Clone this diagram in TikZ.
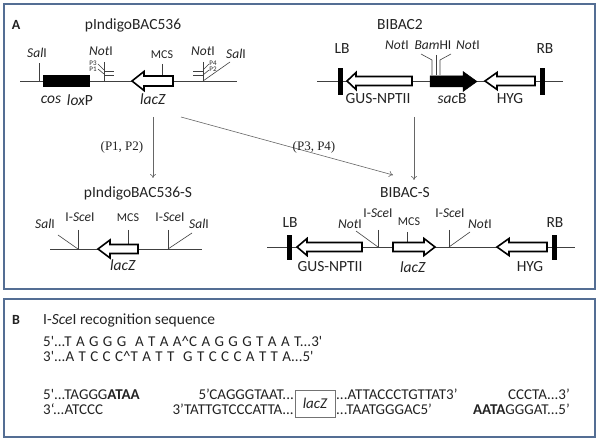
\documentclass[tikz,border=0pt]{standalone}
\usepackage{fontspec}
\setmainfont{Carlito}
\newfontfamily\tnr{Liberation Serif}
\usetikzlibrary{arrows.meta}
\definecolor{panelc}{RGB}{84,110,148}
\definecolor{txt}{RGB}{35,35,35}
% [style] tip, headbase, tail, y, bodyhalf, headhalf
\newcommand\genearrow[7][hollow]{\draw[#1] (#2,#5) -- (#3,#5-#7) -- (#3,#5-#6) -- (#4,#5-#6) -- (#4,#5+#6) -- (#3,#5+#6) -- (#3,#5+#7) -- cycle;}
\newcommand\widesp{\spaceskip=4.4pt plus 1pt\relax}
\begin{document}
\begin{tikzpicture}[x=1pt,y=-1pt,
 every node/.style={inner sep=0pt, text=txt},
 panel/.style={draw=panelc, line width=1.2pt},
 bb/.style={line width=0.7pt, draw=black!75},
 tk/.style={line width=0.6pt, draw=black!75},
 hollow/.style={draw=black, line width=1.6pt, fill=white, line join=miter},
 solidarr/.style={draw=black, fill=black, line width=0.5pt, line join=miter},
 bar/.style={fill=black},
 ttl/.style={font=\fontsize{15.5}{18}\selectfont},
 glab/.style={font=\fontsize{15.5}{18}\selectfont},
 rlab/.style={font=\fontsize{13.5}{16}\selectfont},
 mlab/.style={font=\fontsize{12}{14}\selectfont},
 plab/.style={font=\fontsize{7}{8}\selectfont},
 serlab/.style={font=\tnr\fontsize{13}{15}\selectfont},
 flow/.style={draw=black!60, line width=0.6pt, -{To[length=4pt,width=6pt]}},
 seq/.style={font=\fontsize{15}{18}\selectfont, anchor=base west, text height=9pt, text depth=1pt},
 seqe/.style={font=\fontsize{15}{18}\selectfont, anchor=base east, text height=9pt, text depth=1pt},
]
\useasboundingbox (0,0) rectangle (600,443);
% panels
\draw[panel] (4,4) rectangle (595,289);
\draw[panel] (4,299) rectangle (595,437);
\node[font=\bfseries\fontsize{14}{16}\selectfont] (lA) at (16,25) {A};
\node[font=\bfseries\fontsize{14}{16}\selectfont] (lB) at (16,320) {B};

% ---------- pIndigoBAC536 ----------
\node[ttl] (t1) at (133,25) {pIndigoBAC536};
\draw[bb] (20,81) -- (237,81);
\draw[tk] (39,81) -- (39,63);
\node[rlab] (sal1) at (37,53) {\textit{Sal}I};
\fill[black] (43,75) rectangle (90,87);
\node[glab] (cos) at (51,100) {\textit{cos}};
\node[glab] (lox) at (80,100) {\textit{lox}P};
% left NotI cluster
\node[rlab] (not1) at (101,51) {\textit{Not}I};
\draw[tk] (104,62) -- (104,81);
\draw[tk] (104,71) -- (114,71);
\draw[tk] (104,75) -- (114,75);
\draw[tk] (98,64) -- (104,70);
\draw[tk] (98,69) -- (104,74);
\node[plab] (p3) at (93,63) {P3};
\node[plab] (p1) at (93,69) {P1};
% MCS and lacZ
\node[mlab] (mcs1) at (162,55) {MCS};
\draw[tk] (162,64) -- (162,76);
\genearrow{132}{144}{173}{81}{5}{9.5}
\node[glab] (lac1) at (153,99) {\textit{lacZ}};
% right NotI cluster
\node[rlab] (not2) at (203,51) {\textit{Not}I};
\node[rlab] (sal2) at (236,54) {\textit{Sal}I};
\draw[tk] (203,62) -- (203,81);
\draw[tk] (193,71) -- (203,71);
\draw[tk] (193,75) -- (203,75);
\draw[tk] (230,62) -- (203,81);
\draw[tk] (209,64) -- (203,70);
\draw[tk] (209,70) -- (203,75);
\node[plab] (p4) at (213,63) {P4};
\node[plab] (p2) at (213,69) {P2};

% ---------- BIBAC2 ----------
\node[ttl] (t2) at (400,25) {BIBAC2};
\draw[bb] (317,81) -- (563,81);
\fill[bar] (338,68) rectangle (343,95);
\node[glab] (lb1) at (342,49) {LB};
\genearrow{347}{356}{412}{81}{4.5}{8.5}
\node[glab] (gus1) at (378,99) {GUS-NPTII};
\genearrow[solidarr]{477}{463}{430}{81.5}{5.5}{10}
\node[glab] (sac) at (452,99) {\textit{sac}B};
\genearrow{485}{497}{535}{81}{4.5}{8.5}
\node[glab] (hyg1) at (510,99) {HYG};
\fill[bar] (540,68) rectangle (545,95);
\node[glab] (rb1) at (545,49) {RB};
\node[rlab] (not3) at (397,45) {\textit{Not}I};
\node[rlab] (bam) at (433,45) {\textit{Bam}HI};
\node[rlab] (not4) at (468,45) {\textit{Not}I};
\draw[tk] (421,54) -- (432,60) -- (432,75);
\draw[tk] (436,55) -- (436,75);
\draw[tk] (451,54) -- (440,60) -- (440,75);

% ---------- flow arrows ----------
\coordinate (s1) at (153,117);
\coordinate (e1) at (153,178);
\coordinate (s2) at (181,117);
\coordinate (e2) at (393,175);
\coordinate (s3) at (414,117);
\coordinate (e3) at (414,180);
\draw[flow] (s1) -- (e1);
\draw[flow] (s2) -- (e2);
\draw[flow] (s3) -- (e3);
\node[serlab] (pp12) at (122,147) {(P1, P2)};
\node[serlab] (pp34) at (314,147) {(P3, P4)};

% ---------- pIndigoBAC536-S ----------
\node[ttl] (t3) at (138,193) {pIndigoBAC536-S};
\draw[bb] (50,249) -- (202,249);
\node[rlab] (sal3) at (45,224) {\textit{Sal}I};
\draw[tk] (58,235) -- (78,249);
\node[rlab] (sce1) at (80,217) {I-\textit{Sce}I};
\draw[tk] (78,230) -- (78,249);
\node[mlab] (mcs2) at (128,218) {MCS};
\draw[tk] (128,230) -- (128,244.5);
\genearrow{98}{110}{138}{249}{4.5}{9}
\node[glab] (lac2) at (123,265) {\textit{lacZ}};
\node[rlab] (sce2) at (170,217) {I-\textit{Sce}I};
\draw[tk] (168,230) -- (168,249);
\node[rlab] (sal4) at (199,224) {\textit{Sal}I};
\draw[tk] (192,233) -- (168,249);

% ---------- BIBAC-S ----------
\node[ttl] (t4) at (405,193) {BIBAC-S};
\draw[bb] (267,247) -- (575,247);
\fill[bar] (287,235) rectangle (292,260);
\node[glab] (lb2) at (290,223) {LB};
\genearrow{297}{307}{362}{247}{4.5}{8.5}
\node[glab] (gus2) at (330,267) {GUS-NPTII};
\node[rlab] (not5) at (350,224) {\textit{Not}I};
\draw[tk] (356,231) -- (378,247);
\node[rlab] (sce3) at (378,213) {I-\textit{Sce}I};
\draw[tk] (378,230) -- (378,247);
\node[mlab] (mcs3) at (409,222) {MCS};
\draw[tk] (407,232) -- (407,242.5);
\genearrow{435}{424}{393}{247}{4.5}{8.5}
\node[glab] (lac3) at (413,267) {\textit{lacZ}};
\node[rlab] (sce4) at (450,213) {I-\textit{Sce}I};
\draw[tk] (449,230) -- (449,247);
\node[rlab] (not6) at (480,224) {\textit{Not}I};
\draw[tk] (470,232) -- (449,247);
\genearrow{497}{509}{547}{247}{4.5}{8.5}
\node[glab] (hyg2) at (530,267) {HYG};
\fill[bar] (552,235) rectangle (557,260);
\node[glab] (rb2) at (555,223) {RB};

% ---------- Panel B ----------
\node[font=\fontsize{15.5}{18}\selectfont, anchor=base west] (bt) at (43,325) {I-\textit{Sce}I recognition sequence};
\node[seq] (l1) at (43,347) {\widesp 5\textquotesingle...T A G G G\ \ A T A A\textasciicircum C A G G G T A A T...3\textquotesingle};
\node[seq] (l2) at (43,362) {\widesp 3\textquotesingle...A T C C C\textasciicircum T A T T\ \ G T C C C A T T A...5\textquotesingle};
\node[seq] (l3a) at (43,400) {5\textquotesingle...TAGGG\textbf{ATAA}};
\node[seqe] (l3b) at (294,400) {5’CAGGGTAAT...};
\node[seq] (l3c) at (336,400) {...ATTACCCTGTTAT3’};
\node[seqe] (l3d) at (570,400) {CCCTA...3’};
\node[seq] (l4a) at (43,415) {3‘...ATCCC};
\node[seqe] (l4b) at (294,415) {3’TATTGTCCCATTA...};
\node[seq] (l4c) at (336,415) {...TAATGGGAC5’};
\node[seqe] (l4d) at (570,415) {\textbf{AATA}GGGAT...5’};
\node[draw=black!55, line width=0.7pt, minimum width=40pt, minimum height=27pt, font=\fontsize{15}{18}\selectfont\itshape] (lacbox) at (315,403.5) {lacZ};
\end{tikzpicture}
\end{document}
